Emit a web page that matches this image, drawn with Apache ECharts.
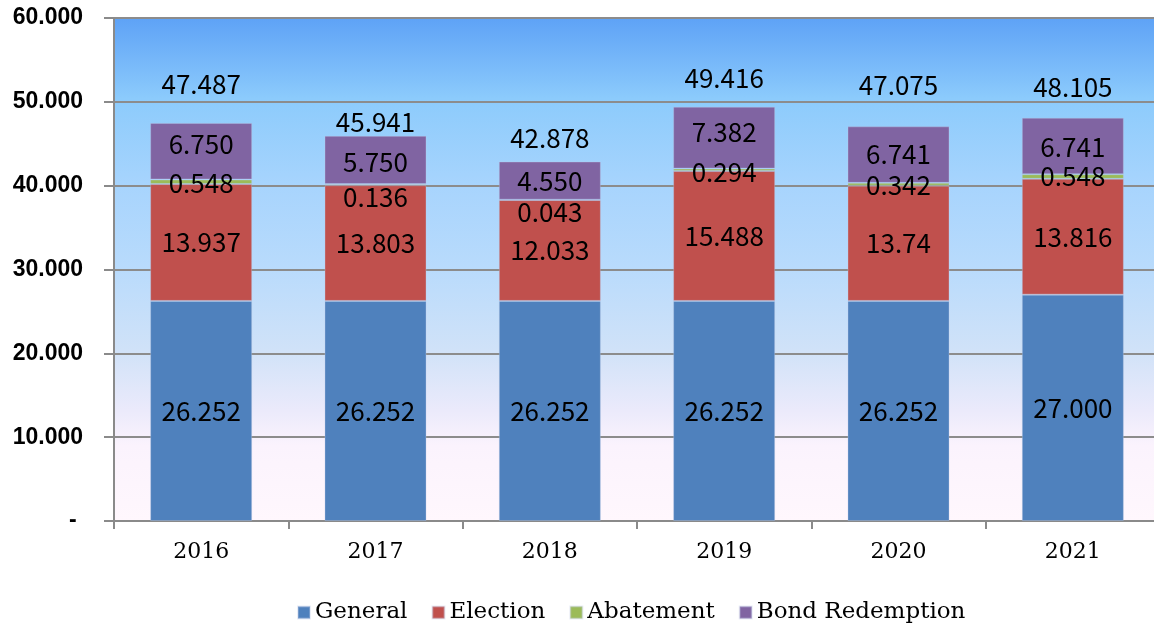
<!DOCTYPE html>
<html>
<head>
<meta charset="utf-8">
<title>Budget by year</title>
<script src="https://cdn.jsdelivr.net/npm/echarts@6/dist/echarts.min.js"></script>
<style>
  html, body { margin: 0; padding: 0; background: #ffffff; overflow: hidden; }
  /* the plot runs a few pixels past the right edge of the window */
  #chart { width: 1162px; height: 623px; }
</style>
</head>
<body>
<div id="chart"></div>
<script>
// Fiscal years on the category axis
const years = ['2016', '2017', '2018', '2019', '2020', '2021'];

// Segment values per year, kept as written in the labels
const general        = ['26.252', '26.252', '26.252', '26.252', '26.252', '27.000'];
const election       = ['13.937', '13.803', '12.033', '15.488', '13.74',  '13.816'];
const abatement      = ['0.548',  '0.136',  '0.043',  '0.294',  '0.342',  '0.548'];
const bondRedemption = ['6.750',  '5.750',  '4.550',  '7.382',  '6.741',  '6.741'];

// Value-axis tick values
const yTicks = [0, 10, 20, 30, 40, 50, 60];

const seriesNames = ['General', 'Election', 'Abatement', 'Bond Redemption'];
const seriesColors = ['#4f81bd', '#c0504d', '#9bbb59', '#8064a2'];

// Vertical nudges (px) for a few labels so they sit where the printed figures are
const abatementShift = [1, 12, 12, 2, 1, 0];
const bondShift      = [-7, 2, 1, -6, 0, 1];
const totalLift      = [39, 14, 23, 29, 41, 31];

const labelFont = '"Noto Sans CJK JP", "Noto Sans", sans-serif';

function segment(name, values, color, shifts) {
  return {
    name: name,
    type: 'bar',
    stack: 'budget',
    barWidth: 102,
    itemStyle: { color: color, borderColor: 'rgba(190,200,230,0.35)', borderWidth: 1 },
    data: values.map((v, i) => ({
      value: Number(v),
      label: shifts ? { offset: [0, shifts[i]] } : undefined
    })),
    label: {
      show: true,
      position: 'inside',
      color: '#000',
      fontFamily: labelFont,
      fontSize: 26,
      formatter: p => values[p.dataIndex]
    }
  };
}

const totals = years.map((_, i) =>
  Number(general[i]) + Number(election[i]) + Number(abatement[i]) + Number(bondRedemption[i]));

const chart = echarts.init(document.getElementById('chart'), null, { renderer: 'canvas' });

chart.setOption({
  animation: false,
  grid: {
    left: 114,
    top: 18,
    width: 1046,
    height: 503,
    show: true,
    borderWidth: 0,
    backgroundColor: {
      type: 'linear', x: 0, y: 0, x2: 0, y2: 1,
      colorStops: [
        { offset: 0,    color: '#5ea2f6' },
        { offset: 0.16, color: '#8ccbfc' },
        { offset: 0.33, color: '#a7d4fd' },
        { offset: 0.5,  color: '#b9dbfc' },
        { offset: 0.66, color: '#d0e2f8' },
        { offset: 0.78, color: '#ebeafb' },
        { offset: 0.85, color: '#fbf3fd' },
        { offset: 1,    color: '#fff7fd' }
      ]
    }
  },
  legend: {
    data: seriesNames,
    left: 292,
    top: 596,
    itemWidth: 12,
    itemHeight: 12,
    itemGap: 24,
    icon: 'rect',
    textStyle: { fontFamily: '"DejaVu Serif", serif', fontSize: 23, color: '#000' }
  },
  xAxis: {
    type: 'category',
    data: years,
    axisLine: { lineStyle: { color: '#8a8a8a', width: 2 } },
    axisTick: { show: true, length: 8, lineStyle: { color: '#8a8a8a', width: 2 } },
    axisLabel: { margin: 20, fontFamily: '"DejaVu Serif", serif', fontSize: 22, color: '#000' }
  },
  yAxis: {
    type: 'value',
    min: yTicks[0],
    max: yTicks[yTicks.length - 1],
    interval: yTicks[1] - yTicks[0],
    axisLine: { show: true, lineStyle: { color: '#8a8a8a', width: 2 } },
    axisTick: { show: true, length: 10, lineStyle: { color: '#8a8a8a', width: 2 } },
    splitLine: { show: true, lineStyle: { color: '#8c8c8c', width: 2 } },
    axisLabel: {
      margin: 31,
      fontFamily: '"Liberation Sans", Arial, sans-serif',
      fontWeight: 'bold',
      fontSize: 23,
      color: '#000',
      formatter: v => (v === 0 ? '- ' : v.toFixed(3))
    }
  },
  series: [
    segment(seriesNames[0], general, seriesColors[0]),
    segment(seriesNames[1], election, seriesColors[1]),
    segment(seriesNames[2], abatement, seriesColors[2], abatementShift),
    segment(seriesNames[3], bondRedemption, seriesColors[3], bondShift),
    {
      name: 'Total',
      type: 'line',
      symbol: 'circle',
      symbolSize: 1,
      itemStyle: { color: 'rgba(0,0,0,0)' },
      lineStyle: { opacity: 0 },
      data: totals.map((t, i) => ({
        value: t,
        label: { offset: [0, -totalLift[i]] }
      })),
      label: {
        show: true,
        position: 'inside',
        color: '#000',
        fontFamily: labelFont,
        fontSize: 26,
        formatter: p => totals[p.dataIndex].toFixed(3)
      },
      z: 5
    }
  ]
});
</script>
</body>
</html>
